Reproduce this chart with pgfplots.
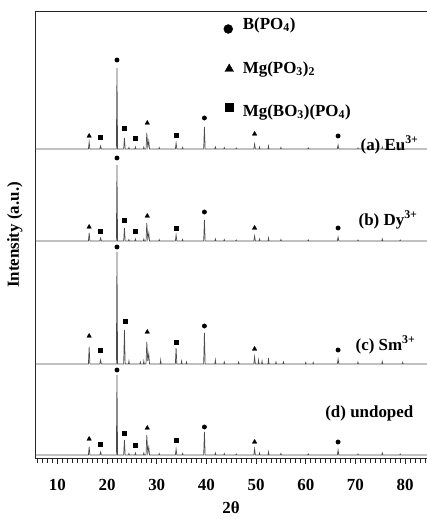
\documentclass[border=0pt]{standalone}
\usepackage{fontspec}
\setmainfont{Liberation Serif}
\usepackage{pgfplots}
\pgfplotsset{compat=1.18}

\begin{document}
\begin{tikzpicture}
\begin{axis}[
    width=392bp, height=446bp, scale only axis,
    xmin=5.5, xmax=84.4, ymin=0, ymax=446,
    axis y line*=left,
    xtick pos=left, tick align=outside,
    xtick={10,20,...,80}, minor xtick={6,...,84},
    major tick length=6bp, minor tick length=4.5bp,
    ytick=\empty,
    axis line style={line width=1pt, black!85},
    tick style={line width=0.9pt, black!85},
    /pgf/number format/assume math mode=true,
    tick label style={font=\bfseries\fontsize{17}{17}\selectfont},
    xticklabel style={yshift=-12bp},
    xlabel={\bfseries\fontsize{17}{17}\selectfont 2θ},
    xlabel style={yshift=-4bp},
    ylabel={\bfseries\fontsize{17}{17}\selectfont Intensity (a.u.)},
    ylabel style={yshift=3bp},
    clip=false,
    xrd/.style={black!70, line width=0.7pt, mark=none},
]
% (a) Eu3+
\addplot[xrd] coordinates {
(5.5,309) (16.25,309) (16.4,316) (16.55,309) (18.55,309) (18.7,312) (18.85,309)
(21.88,309) (22.0,390) (22.12,309) (23.35,309) (23.5,320) (23.65,309)
(24.3,309) (24.4,310.5) (24.5,309) (25.6,309) (25.7,311) (25.8,309)
(27.3,309) (27.4,311) (27.5,309) (27.85,309) (28.0,325) (28.2,311) (28.4,317) (28.55,309)
(30.4,309) (30.5,310.5) (30.6,309) (33.75,309) (33.9,315) (34.05,309)
(35.1,309) (35.2,310.5) (35.3,309) (39.45,309) (39.6,331) (39.75,309)
(41.7,309) (41.8,311) (41.9,309) (43.5,309) (43.6,310.5) (43.7,309)
(45.9,309) (46.0,310) (46.1,309) (49.55,309) (49.7,314) (49.85,309)
(50.6,309) (50.7,311) (50.8,309) (52.4,309) (52.5,312) (52.6,309)
(54.9,309) (55.0,310.5) (55.1,309) (60.4,309) (60.5,310) (60.6,309)
(66.35,309) (66.5,313) (66.65,309) (70.4,309) (70.5,310) (70.6,309)
(75.3,309) (75.4,311) (75.5,309) (78.9,309) (79.0,310) (79.1,309) (84.4,309)
};
% (b) Dy3+
\addplot[xrd] coordinates {
(5.5,217) (16.25,217) (16.4,225) (16.55,217) (18.55,217) (18.7,220) (18.85,217)
(21.88,217) (22.0,293) (22.12,217) (23.35,217) (23.5,230) (23.65,217)
(24.3,217) (24.4,218.5) (24.5,217) (25.6,217) (25.7,219) (25.8,217)
(27.3,217) (27.4,219) (27.5,217) (27.85,217) (28.0,235) (28.2,219) (28.4,225) (28.55,217)
(30.4,217) (30.5,218.5) (30.6,217) (33.75,217) (33.9,223) (34.05,217)
(35.1,217) (35.2,218.5) (35.3,217) (39.45,217) (39.6,238) (39.75,217)
(41.7,217) (41.8,219) (41.9,217) (43.5,217) (43.6,218.5) (43.7,217)
(45.9,217) (46.0,218) (46.1,217) (49.55,217) (49.7,222) (49.85,217)
(50.6,217) (50.7,219) (50.8,217) (52.4,217) (52.5,220) (52.6,217)
(54.9,217) (55.0,218.5) (55.1,217) (60.4,217) (60.5,218) (60.6,217)
(66.35,217) (66.5,221) (66.65,217) (70.4,217) (70.5,218) (70.6,217)
(75.3,217) (75.4,219) (75.5,217) (78.9,217) (79.0,218) (79.1,217) (84.4,217)
};
% (c) Sm3+
\addplot[xrd] coordinates {
(5.5,94) (16.25,94) (16.4,111) (16.55,94) (18.55,94) (18.7,98) (18.85,94)
(21.88,94) (22.0,206) (22.12,94) (23.35,94) (23.5,128) (23.65,94)
(24.3,94) (24.4,97) (24.5,94) (26.6,94) (26.7,96) (26.8,94)
(27.3,94) (27.4,97) (27.5,94) (27.85,94) (28.0,116) (28.2,97) (28.4,104) (28.55,94)
(30.7,94) (30.8,98) (30.9,94) (33.75,94) (33.9,110) (34.05,94)
(34.9,94) (35.0,97) (35.1,94) (35.9,94) (36.0,96) (36.1,94)
(39.45,94) (39.6,125) (39.75,94) (41.7,94) (41.8,98) (41.9,94)
(43.5,94) (43.6,96) (43.7,94) (46.4,94) (46.5,96) (46.6,94)
(49.55,94) (49.7,101) (49.85,94) (50.4,94) (50.5,98) (50.6,94)
(51.1,94) (51.2,97) (51.3,94) (52.4,94) (52.5,100) (52.6,94)
(53.9,94) (54.0,96) (54.1,94) (55.4,94) (55.5,96) (55.6,94)
(59.9,94) (60.0,95.5) (60.1,94) (61.4,94) (61.5,95.5) (61.6,94)
(66.35,94) (66.5,99) (66.65,94) (70.4,94) (70.5,96) (70.6,94)
(75.3,94) (75.4,96.5) (75.5,94) (79.4,94) (79.5,95.5) (79.6,94) (84.4,94)
};
% (d) undoped
\addplot[xrd] coordinates {
(5.5,3) (16.25,3) (16.4,11) (16.55,3) (18.55,3) (18.7,6) (18.85,3)
(21.88,3) (22.0,83) (22.12,3) (23.35,3) (23.5,18) (23.65,3)
(24.3,3) (24.4,4.5) (24.5,3) (25.6,3) (25.7,5) (25.8,3)
(27.3,3) (27.4,5) (27.5,3) (27.85,3) (28.0,23) (28.2,5) (28.4,11) (28.55,3)
(30.4,3) (30.5,4.5) (30.6,3) (33.75,3) (33.9,9) (34.05,3)
(35.1,3) (35.2,4.5) (35.3,3) (39.45,3) (39.6,26) (39.75,3)
(41.7,3) (41.8,5) (41.9,3) (43.5,3) (43.6,4.5) (43.7,3)
(45.9,3) (46.0,4) (46.1,3) (49.55,3) (49.7,9) (49.85,3)
(50.6,3) (50.7,5) (50.8,3) (52.4,3) (52.5,6) (52.6,3)
(54.9,3) (55.0,4.5) (55.1,3) (60.4,3) (60.5,4) (60.6,3)
(66.35,3) (66.5,8) (66.65,3) (70.4,3) (70.5,4) (70.6,3)
(75.3,3) (75.4,5) (75.5,3) (78.9,3) (79.0,4) (79.1,3) (84.4,3)
};
% phase markers
\addplot[only marks, mark=*, black, mark size=2.2pt] coordinates {
(22.0,398) (39.6,340) (66.5,322)
(22.0,300) (39.6,246) (66.5,230)
(22.0,211) (39.6,132) (66.5,108)
(22.0,88) (39.6,31) (66.5,16)
};
\addplot[only marks, mark=triangle*, black, mark size=2.6pt] coordinates {
(16.4,322) (28.1,335) (49.7,324)
(16.4,231) (28.1,242) (49.7,230)
(16.4,122) (28.1,126) (49.7,109)
(16.4,19) (28.1,30) (49.7,16)
};
\addplot[only marks, mark=square*, black, mark size=2.0pt] coordinates {
(18.7,321) (23.5,330) (25.7,320) (33.9,323)
(18.7,227) (23.5,238) (25.7,227) (33.9,230)
(18.7,108) (23.6,137) (33.9,116)
(18.7,14) (23.5,25) (25.7,13) (33.9,18)
};
% legend
\addplot[only marks, mark=*, black, mark size=4.5pt] coordinates {(44.4,429)};
\addplot[only marks, mark=triangle*, black, mark size=5pt] coordinates {(44.6,389)};
\addplot[only marks, mark=square*, black, mark size=4pt] coordinates {(44.5,351)};
\begin{scope}[every node/.style={anchor=west, inner sep=0pt, font=\bfseries\fontsize{17}{17}\selectfont}]
\node at (axis cs:47.3,433) {B(PO\textsubscript{4})};
\node at (axis cs:47.3,389) {Mg(PO\textsubscript{3})\textsubscript{2}};
\node at (axis cs:47.3,346) {Mg(BO\textsubscript{3})(PO\textsubscript{4})};
\node at (axis cs:71.0,313) {(a) Eu\textsuperscript{3+}};
\node at (axis cs:70.6,238) {(b) Dy\textsuperscript{3+}};
\node at (axis cs:70.0,113) {(c) Sm\textsuperscript{3+}};
\node at (axis cs:63.9,45) {(d) undoped};
\end{scope}
\end{axis}
\pgfresetboundingbox
\path[use as bounding box] ([xshift=-35bp,yshift=-61bp]current axis.south west) rectangle ([yshift=12bp]current axis.north east);
\end{tikzpicture}
\end{document}
